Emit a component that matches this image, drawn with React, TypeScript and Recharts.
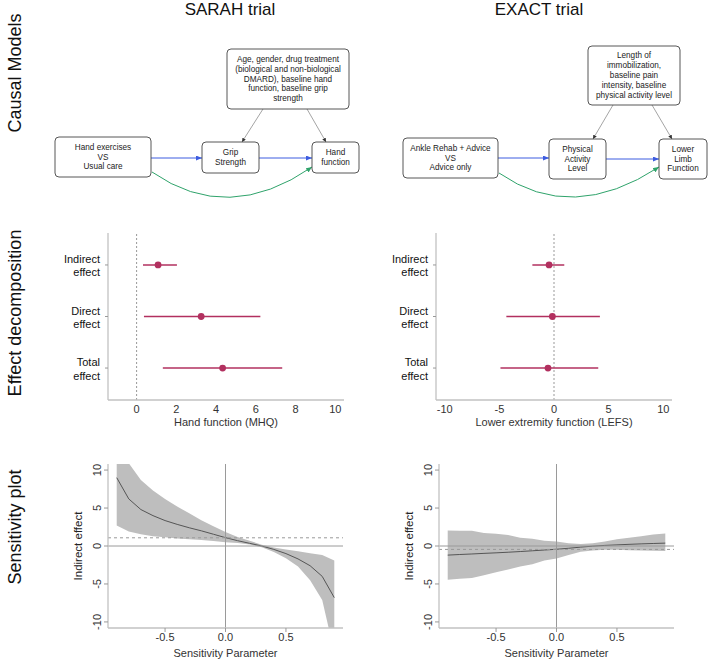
import React from "react";
import {
  ScatterChart,
  ComposedChart,
  Scatter,
  ErrorBar,
  Area,
  Line,
  XAxis,
  YAxis,
  ReferenceLine,
  Label,
} from "recharts";

// ---- effect decomposition ----
const effectLabels = ["Indirect effect", "Direct effect", "Total effect"];
const effectRows = [3, 2, 1];

const sarahEst = [1.08, 3.25, 4.33];
const sarahLow = [0.32, 0.37, 1.32];
const sarahHigh = [2.03, 6.23, 7.33];
const sarahTicks = [0, 2, 4, 6, 8, 10];

const exactEst = [-0.45, -0.15, -0.55];
const exactLow = [-1.98, -4.36, -4.9];
const exactHigh = [0.94, 4.2, 4.05];
const exactTicks = [-10, -5, 0, 5, 10];

// ---- sensitivity analysis ----
const rhoValues = [
  -0.9, -0.8, -0.7, -0.6, -0.5, -0.4, -0.3, -0.2, -0.1, 0, 0.1, 0.2, 0.3, 0.4,
  0.5, 0.6, 0.7, 0.8, 0.9,
];
const rhoTicks = [-0.5, 0, 0.5];
const indirectTicks = [-10, -5, 0, 5, 10];

const sarahSensEst = [
  9.0, 6.2, 4.8, 4.0, 3.35, 2.85, 2.4, 2.0, 1.55, 1.1, 0.7, 0.35, 0.0, -0.45,
  -1.0, -1.7, -2.6, -4.0, -6.8,
];
const sarahSensUpper = [
  14.5, 10.9, 8.7, 7.3, 6.2, 5.2, 4.3, 3.4, 2.6, 1.85, 1.2, 0.7, 0.15, -0.2,
  -0.45, -0.7, -0.95, -1.2, -1.9,
];
const sarahSensLower = [
  2.7, 1.9, 1.55, 1.3, 1.15, 1.0, 0.9, 0.8, 0.65, 0.5, 0.4, 0.2, -0.15, -0.8,
  -1.6, -2.7, -4.5, -7.1, -14,
];

const exactSensEst = [
  -1.2, -1.12, -1.05, -0.97, -0.9, -0.82, -0.73, -0.63, -0.53, -0.43, -0.3,
  -0.15, -0.02, 0.08, 0.15, 0.22, 0.28, 0.33, 0.38,
];
const exactSensUpper = [
  2.05, 2.0, 2.0, 1.7, 1.6, 1.45, 1.1, 0.95, 0.7, 0.6, 0.35, 0.25, 0.35, 0.6,
  0.9, 1.1, 1.3, 1.5, 1.65,
];
const exactSensLower = [
  -4.45, -4.3, -4.2, -3.85, -3.45, -3.1, -2.7, -2.4, -1.9, -1.65, -1.2, -0.75,
  -0.6, -0.5, -0.5, -0.55, -0.6, -0.62, -0.65,
];

const FONT = "'Liberation Sans', Arial, sans-serif";
const PLUM = "#b2305f";
const FRAME = "#c2c2c2";
const BLUE = "#3d5ce0";
const GREEN = "#2fa36b";

// R-style axis padding (4% each side)
const rPad = (lo: number, hi: number): [number, number] => {
  const p = (hi - lo) * 0.04;
  return [lo - p, hi + p];
};

function EffectTick({ x, y, payload }: any) {
  const idx = effectRows.indexOf(payload.value);
  const words = (effectLabels[idx] || "").split(" ");
  return (
    <text x={x} y={y} textAnchor="end" fontSize={11} fill="#111" fontFamily={FONT}>
      <tspan x={x} dy={-2}>{words[0]}</tspan>
      <tspan x={x} dy={13.5}>{words[1]}</tspan>
    </text>
  );
}

function ForestPlot({
  est,
  low,
  high,
  ticks,
  xlim,
  title,
}: {
  est: number[];
  low: number[];
  high: number[];
  ticks: number[];
  xlim: [number, number];
  title: string;
}) {
  const data = effectRows.map((row, i) => ({
    row,
    est: est[i],
    err: [est[i] - low[i], high[i] - est[i]],
  }));
  return (
    <ScatterChart width={340} height={215} margin={{ top: 8, right: 16, bottom: 0, left: 0 }}>
      <XAxis
        type="number"
        dataKey="est"
        domain={rPad(xlim[0], xlim[1])}
        allowDataOverflow
        ticks={ticks}
        interval={0}
        tickLine={false}
        tickSize={0}
        tickMargin={5}
        axisLine={{ stroke: FRAME, strokeWidth: 1.3 }}
        tick={{ fontSize: 11, fill: "#333", fontFamily: FONT }}
        height={40}
      >
        <Label
          content={({ viewBox }: any) => (
            <text
              x={viewBox.x + viewBox.width / 2}
              y={viewBox.y + 22}
              textAnchor="middle"
              dominantBaseline="central"
              fontSize={11}
              fill="#333"
              fontFamily={FONT}
            >
              {title}
            </text>
          )}
        />
      </XAxis>
      <XAxis
        xAxisId="top"
        orientation="top"
        type="number"
        domain={[0, 1]}
        tick={false}
        tickLine={false}
        axisLine={{ stroke: FRAME, strokeWidth: 1.3 }}
        height={0}
      />
      <YAxis
        type="number"
        dataKey="row"
        domain={rPad(0.5, 3.5)}
        allowDataOverflow
        ticks={effectRows}
        interval={0}
        width={88}
        tickSize={3}
        tickMargin={5}
        tickLine={{ stroke: "#999" }}
        axisLine={{ stroke: FRAME, strokeWidth: 1.3 }}
        tick={<EffectTick />}
      />
      <YAxis
        yAxisId="right"
        orientation="right"
        type="number"
        domain={[0, 1]}
        tick={false}
        tickLine={false}
        axisLine={{ stroke: FRAME, strokeWidth: 1.3 }}
        width={0}
      />
      <ReferenceLine x={0} stroke="#999" strokeDasharray="2 2" />
      <Scatter
        data={data}
        fill={PLUM}
        isAnimationActive={false}
        shape={(p: any) => <circle cx={p.cx} cy={p.cy} r={3.4} fill={PLUM} />}
      >
        <ErrorBar dataKey="err" direction="x" width={0} stroke={PLUM} strokeWidth={1.6} />
      </Scatter>
    </ScatterChart>
  );
}

function RotatedTick({ x, y, payload }: any) {
  return (
    <text
      x={x}
      y={y}
      transform={`rotate(-90 ${x} ${y})`}
      textAnchor="middle"
      fontSize={11}
      fill="#333"
      fontFamily={FONT}
    >
      {payload.value}
    </text>
  );
}

function SensitivityPlot({
  est,
  lower,
  upper,
  indirect,
}: {
  est: number[];
  lower: number[];
  upper: number[];
  indirect: number;
}) {
  const data = rhoValues.map((rho, i) => ({
    rho,
    est: est[i],
    band: [lower[i], upper[i]],
  }));
  return (
    <ComposedChart width={330} height={206} data={data} margin={{ top: 9, right: 7, bottom: 0, left: 0 }}>
      <XAxis
        type="number"
        dataKey="rho"
        domain={rPad(-0.9, 0.9)}
        allowDataOverflow
        ticks={rhoTicks}
        interval={0}
        tickFormatter={(v: number) => v.toFixed(1)}
        tickSize={4}
        tickMargin={1}
        tickLine={{ stroke: "#999" }}
        axisLine={{ stroke: FRAME, strokeWidth: 1.3 }}
        tick={{ fontSize: 11, fill: "#333", fontFamily: FONT }}
        height={33}
      >
        <Label
          content={({ viewBox }: any) => (
            <text
              x={viewBox.x + viewBox.width / 2}
              y={viewBox.y + 25}
              textAnchor="middle"
              dominantBaseline="central"
              fontSize={11}
              fill="#333"
              fontFamily={FONT}
            >
              Sensitivity Parameter
            </text>
          )}
        />
      </XAxis>
      <XAxis
        xAxisId="top"
        orientation="top"
        type="number"
        domain={[0, 1]}
        tick={false}
        tickLine={false}
        axisLine={{ stroke: FRAME, strokeWidth: 1.3 }}
        height={0}
      />
      <YAxis
        type="number"
        domain={rPad(-10, 10)}
        allowDataOverflow
        ticks={indirectTicks}
        interval={0}
        width={88}
        tickSize={4}
        tickMargin={3}
        tickLine={{ stroke: "#999" }}
        axisLine={{ stroke: FRAME, strokeWidth: 1.3 }}
        tick={<RotatedTick />}
      >
        <Label
          content={({ viewBox }: any) => {
            const cx = 58;
            const cy = viewBox.y + viewBox.height / 2;
            return (
              <text
                x={cx}
                y={cy}
                transform={`rotate(-90 ${cx} ${cy})`}
                textAnchor="middle"
                dominantBaseline="central"
                fontSize={11.5}
                fill="#222"
                fontFamily={FONT}
              >
                Indirect effect
              </text>
            );
          }}
        />
      </YAxis>
      <YAxis
        yAxisId="right"
        orientation="right"
        type="number"
        domain={[0, 1]}
        tick={false}
        tickLine={false}
        axisLine={{ stroke: FRAME, strokeWidth: 1.3 }}
        width={0}
      />
      <Area
        type="linear"
        dataKey="band"
        fill="#bebebe"
        fillOpacity={1}
        stroke="none"
        isAnimationActive={false}
      />
      <Line
        type="linear"
        dataKey="est"
        stroke="#555"
        strokeWidth={1}
        dot={false}
        isAnimationActive={false}
      />
      <ReferenceLine y={0} stroke="#9a9a9a" />
      <ReferenceLine x={0} stroke="#9a9a9a" />
      <ReferenceLine y={indirect} stroke="#999" strokeDasharray="3 3" />
    </ComposedChart>
  );
}

// ---- causal diagrams (layout only) ----
type Node = { x: number; y: number; w: number; h: number; lines: string[] };

const sarahNodes: Node[] = [
  { x: 55, y: 137, w: 96, h: 40, lines: ["Hand exercises", "VS", "Usual care"] },
  { x: 202, y: 142, w: 57, h: 31, lines: ["Grip", "Strength"] },
  { x: 312, y: 142, w: 47, h: 31, lines: ["Hand", "function"] },
  {
    x: 227,
    y: 49,
    w: 122,
    h: 60,
    lines: [
      "Age, gender, drug treatment",
      "(biological and non-biological",
      "DMARD), baseline hand",
      "function, baseline grip",
      "strength",
    ],
  },
];

const exactNodes: Node[] = [
  { x: 403, y: 138, w: 95, h: 40, lines: ["Ankle Rehab + Advice", "VS", "Advice only"] },
  { x: 549, y: 139, w: 57, h: 40, lines: ["Physical", "Activity", "Level"] },
  { x: 659, y: 139, w: 48, h: 40, lines: ["Lower", "Limb", "Function"] },
  {
    x: 588,
    y: 46,
    w: 92,
    h: 59,
    lines: [
      "Length of",
      "immobilization,",
      "baseline pain",
      "intensity, baseline",
      "physical activity level",
    ],
  },
];

function NodeBox({ n }: { n: Node }) {
  const lh = 9.8;
  const cy = n.y + n.h / 2;
  const first = cy - ((n.lines.length - 1) * lh) / 2;
  return (
    <g>
      <rect x={n.x} y={n.y} width={n.w} height={n.h} rx={4} fill="#fff" stroke="#444" strokeWidth={0.9} />
      {n.lines.map((t, i) => (
        <text
          key={i}
          x={n.x + n.w / 2}
          y={first + i * lh}
          textAnchor="middle"
          dominantBaseline="central"
          fontSize={8.2}
          fill="#222"
          fontFamily={FONT}
        >
          {t}
        </text>
      ))}
    </g>
  );
}

function Diagrams() {
  return (
    <svg width={709} height={661} style={{ position: "absolute", left: 0, top: 0 }}>
      <defs>
        <marker id="hb" markerUnits="userSpaceOnUse" markerWidth={6} markerHeight={5} refX={6} refY={2.5} orient="auto">
          <path d="M0,0 L6,2.5 L0,5 z" fill={BLUE} />
        </marker>
        <marker id="hg" markerUnits="userSpaceOnUse" markerWidth={6} markerHeight={5} refX={6} refY={2.5} orient="auto">
          <path d="M0,0 L6,2.5 L0,5 z" fill={GREEN} />
        </marker>
        <marker id="hk" markerUnits="userSpaceOnUse" markerWidth={4} markerHeight={4} refX={4} refY={2} orient="auto">
          <path d="M0,0 L4,2 L0,4 z" fill="#333" />
        </marker>
      </defs>

      <text x={230} y={9} textAnchor="middle" dominantBaseline="central" fontSize={17} fill="#111" fontFamily={FONT}>
        SARAH trial
      </text>
      <text x={539} y={9} textAnchor="middle" dominantBaseline="central" fontSize={17} fill="#111" fontFamily={FONT}>
        EXACT trial
      </text>

      {[
        { label: "Causal Models", cy: 73 },
        { label: "Effect decomposition", cy: 313 },
        { label: "Sensitivity plot", cy: 527 },
      ].map((r) => (
        <text
          key={r.label}
          x={15}
          y={r.cy}
          transform={`rotate(-90 15 ${r.cy})`}
          textAnchor="middle"
          dominantBaseline="central"
          fontSize={18}
          fill="#111"
          fontFamily={FONT}
        >
          {r.label}
        </text>
      ))}

      {/* SARAH arrows */}
      <line x1={151} y1={158} x2={202} y2={158} stroke={BLUE} strokeWidth={1} markerEnd="url(#hb)" />
      <line x1={259} y1={158} x2={312} y2={158} stroke={BLUE} strokeWidth={1} markerEnd="url(#hb)" />
      <line x1={263} y1={109} x2={242} y2={142} stroke="#666" strokeWidth={0.6} markerEnd="url(#hk)" />
      <line x1={307} y1={109} x2={326} y2={142} stroke="#666" strokeWidth={0.6} markerEnd="url(#hk)" />
      <path d="M152,172 Q228,225 312,167" fill="none" stroke={GREEN} strokeWidth={1} markerEnd="url(#hg)" />

      {/* EXACT arrows */}
      <line x1={498} y1={158} x2={549} y2={158} stroke={BLUE} strokeWidth={1} markerEnd="url(#hb)" />
      <line x1={606} y1={159} x2={659} y2={159} stroke={BLUE} strokeWidth={1} markerEnd="url(#hb)" />
      <line x1={613} y1={105} x2={593} y2={139} stroke="#666" strokeWidth={0.6} markerEnd="url(#hk)" />
      <line x1={652} y1={105} x2={672} y2={139} stroke="#666" strokeWidth={0.6} markerEnd="url(#hk)" />
      <path d="M499,173 Q572,224 659,167" fill="none" stroke={GREEN} strokeWidth={1} markerEnd="url(#hg)" />

      {sarahNodes.map((n, i) => (
        <NodeBox key={"s" + i} n={n} />
      ))}
      {exactNodes.map((n, i) => (
        <NodeBox key={"e" + i} n={n} />
      ))}
    </svg>
  );
}

export default function App() {
  return (
    <div
      style={{
        position: "absolute",
        left: 0,
        top: 0,
        width: 709,
        height: 661,
        background: "#fff",
        overflow: "hidden",
        fontFamily: FONT,
      }}
    >
      <Diagrams />
      <div style={{ position: "absolute", left: 20, top: 225 }}>
        <ForestPlot
          est={sarahEst}
          low={sarahLow}
          high={sarahHigh}
          ticks={sarahTicks}
          xlim={[-1, 10]}
          title="Hand function (MHQ)"
        />
      </div>
      <div style={{ position: "absolute", left: 348, top: 225 }}>
        <ForestPlot
          est={exactEst}
          low={exactLow}
          high={exactHigh}
          ticks={exactTicks}
          xlim={[-10, 10]}
          title="Lower extremity function (LEFS)"
        />
      </div>
      <div style={{ position: "absolute", left: 20, top: 455 }}>
        <SensitivityPlot
          est={sarahSensEst}
          lower={sarahSensLower}
          upper={sarahSensUpper}
          indirect={sarahEst[0]}
        />
      </div>
      <div style={{ position: "absolute", left: 351, top: 455 }}>
        <SensitivityPlot
          est={exactSensEst}
          lower={exactSensLower}
          upper={exactSensUpper}
          indirect={exactEst[0]}
        />
      </div>
    </div>
  );
}
